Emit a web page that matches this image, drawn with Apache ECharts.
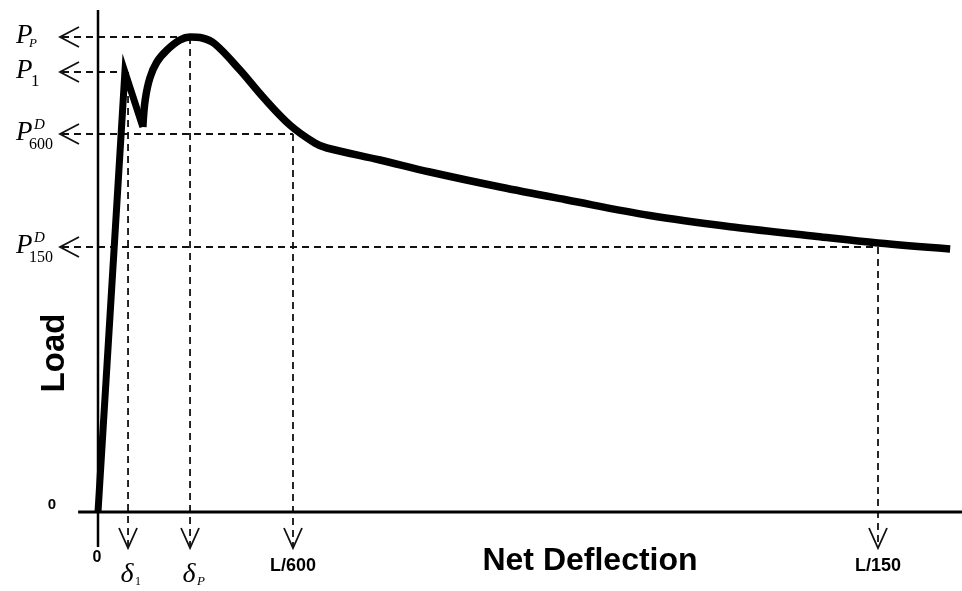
<!DOCTYPE html>
<html><head><meta charset="utf-8">
<script src="https://cdn.jsdelivr.net/npm/echarts@6/dist/echarts.min.js"></script>
<style>html,body{margin:0;padding:0;background:#fff}#c{width:962px;height:591px}</style>
</head><body><div id="c"></div>
<script>
// Load–net deflection curve (deflection in mm for a span L = 3000 mm, load in kN)
const deflection = [0, 0.69, 1.15, 1.21, 1.33, 1.51, 1.77, 2.10, 2.36, 2.67, 3.00, 3.64, 4.23, 4.92, 5.56, 5.87, 7.23, 8.51, 10.31, 12.03, 14.15, 16.28, 18.44, 20.00, 21.85];
const load       = [0, 88,   77,   82.4, 86.8, 90,   92.4, 94.4, 95,   94.8, 93.6, 88.4, 83,   77.4, 73.8, 72.8, 70.4, 68,   65,    62.4,  59.3,  57,    55.1,  53.8,  52.6];
const risePoints = 3; // 0 -> P1 -> first drop are straight segments

// Load markers on the load axis
const loadMarkSubs   = ['P', '1', '600', '150'];
const loadMarkSups   = ['', '', 'D', 'D'];
const loadMarkValues = [95, 88, 75.6, 53];
const loadMarkReach  = [2.36, 0.69, 5, 20];

// Deflection markers on the deflection axis
const deflMarkLabels = ['δ', 'δ', 'L/600', 'L/150'];
const deflMarkSubs   = ['1', 'P', '', ''];
const deflMarkValues = [0.77, 2.36, 5, 20];
const deflMarkLoads  = [88, 95, 75.6, 53];

// axis extents
const xAxisExtent = [-0.51, 22.2];
const yAxisExtent = [-7, 100.4];

const chart = echarts.init(document.getElementById('c'), null, {renderer: 'canvas'});
const serif = '"Liberation Serif","Times New Roman",serif';
const sans = '"Liberation Sans",Arial,sans-serif';
const dash = {stroke: '#111', lineWidth: 1.8, lineDash: [7, 5], fill: 'none'};
const arrowStyle = {stroke: '#111', lineWidth: 1.8, fill: 'none'};

const curve = deflection.map((d, i) => [d, load[i]]);

function txt(text, x, y, font, align) {
  return {type: 'text', style: {text, x, y, font, fill: '#000', textAlign: align || 'left', textVerticalAlign: 'middle'}};
}

function renderLoadGuide(params, api) {
  const i = params.dataIndex;
  const origin = api.coord([0, 0]);
  const p = api.coord([api.value(0), api.value(1)]);
  const tipX = origin[0] - 38, y = p[1];
  const ch = [
    {type: 'polyline', shape: {points: [[tipX + 2, y], [p[0], y]]}, style: dash},
    {type: 'polyline', shape: {points: [[tipX + 19, y - 10], [tipX, y], [tipX + 19, y + 10]]}, style: arrowStyle},
    txt('P', tipX - 44, y - 1, 'italic 27px ' + serif)
  ];
  const sub = loadMarkSubs[i];
  if (sub === 'P') ch.push(txt('P', tipX - 31, y + 7, 'italic 13px ' + serif));
  else if (sub === '1') ch.push(txt('1', tipX - 29, y + 10, '17px ' + serif));
  else {
    ch.push(txt(sub, tipX - 31, y + 11, '16px ' + serif));
    ch.push(txt(loadMarkSups[i], tipX - 26, y - 9, 'italic 15px ' + serif));
  }
  return {type: 'group', children: ch};
}

function renderDeflGuide(params, api) {
  const i = params.dataIndex;
  const origin = api.coord([0, 0]);
  const p = api.coord([api.value(0), api.value(1)]);
  const x = p[0], tipY = origin[1] + 36;
  const ch = [
    {type: 'polyline', shape: {points: [[x, p[1]], [x, tipY - 2]]}, style: dash},
    {type: 'polyline', shape: {points: [[x - 9, tipY - 20], [x, tipY], [x + 9, tipY - 20]]}, style: arrowStyle}
  ];
  const lab = deflMarkLabels[i];
  if (lab === 'δ') {
    ch.push(txt('δ', x - 1, origin[1] + 63, 'italic 28px ' + serif, 'center'));
    const s = deflMarkSubs[i];
    ch.push(txt(s, x + 7, origin[1] + 70, (s === 'P' ? 'italic 13px ' : '12px ') + serif));
  } else {
    ch.push(txt(lab, x, origin[1] + 54, 'bold 18px ' + sans, 'center'));
  }
  return {type: 'group', children: ch};
}

function renderAxisText(params, api) {
  const o = api.coord([0, 0]);
  return {type: 'group', children: [
    txt('0', o[0] - 46, o[1] - 7, 'bold 15px ' + sans, 'center'),
    txt('0', o[0] - 1, o[1] + 46, 'bold 16px ' + sans, 'center'),
    {type: 'text', x: o[0] - 43, y: o[1] - 159, rotation: Math.PI / 2,
      style: {text: 'Load', x: 0, y: 0, font: 'bold 33px ' + sans, fill: '#000', textAlign: 'center', textVerticalAlign: 'middle'}},
    txt('Net Deflection', o[0] + 492, o[1] + 49, 'bold 32px ' + sans, 'center')
  ]};
}

chart.setOption({
  animation: false,
  backgroundColor: '#fff',
  grid: {left: 0, right: 0, top: 0, bottom: 0},
  xAxis: {type: 'value', min: -98 / 39, max: 864 / 39, show: false},
  yAxis: {type: 'value', min: -79 / 5, max: 512 / 5, show: false},
  series: [
    {type: 'custom', name: 'loadGuides', coordinateSystem: 'cartesian2d', encode: {x: 0, y: 1},
      data: loadMarkValues.map((v, i) => [loadMarkReach[i], v]), renderItem: renderLoadGuide, z: 1},
    {type: 'custom', name: 'deflGuides', coordinateSystem: 'cartesian2d', encode: {x: 0, y: 1},
      data: deflMarkValues.map((v, i) => [v, deflMarkLoads[i]]), renderItem: renderDeflGuide, z: 1},
    {type: 'custom', name: 'axisText', coordinateSystem: 'cartesian2d', encode: {x: 0, y: 1},
      data: [[0, 0]], renderItem: renderAxisText, z: 1},
    {type: 'line', name: 'yAxisLine', data: [[0, yAxisExtent[0]], [0, yAxisExtent[1]]], symbol: 'none',
      lineStyle: {color: '#000', width: 2.5}, z: 2},
    {type: 'line', name: 'xAxisLine', data: [[xAxisExtent[0], 0], [xAxisExtent[1], 0]], symbol: 'none',
      lineStyle: {color: '#000', width: 3}, z: 2},
    {type: 'line', name: 'rise', data: curve.slice(0, risePoints), symbol: 'none', smooth: false,
      lineStyle: {color: '#000', width: 7, join: 'miter', cap: 'butt'}, z: 3},
    {type: 'line', name: 'postPeak', data: curve.slice(risePoints - 1), symbol: 'none', smooth: 0.35,
      lineStyle: {color: '#000', width: 7.5, join: 'round'}, z: 3}
  ]
});
</script></body></html>
